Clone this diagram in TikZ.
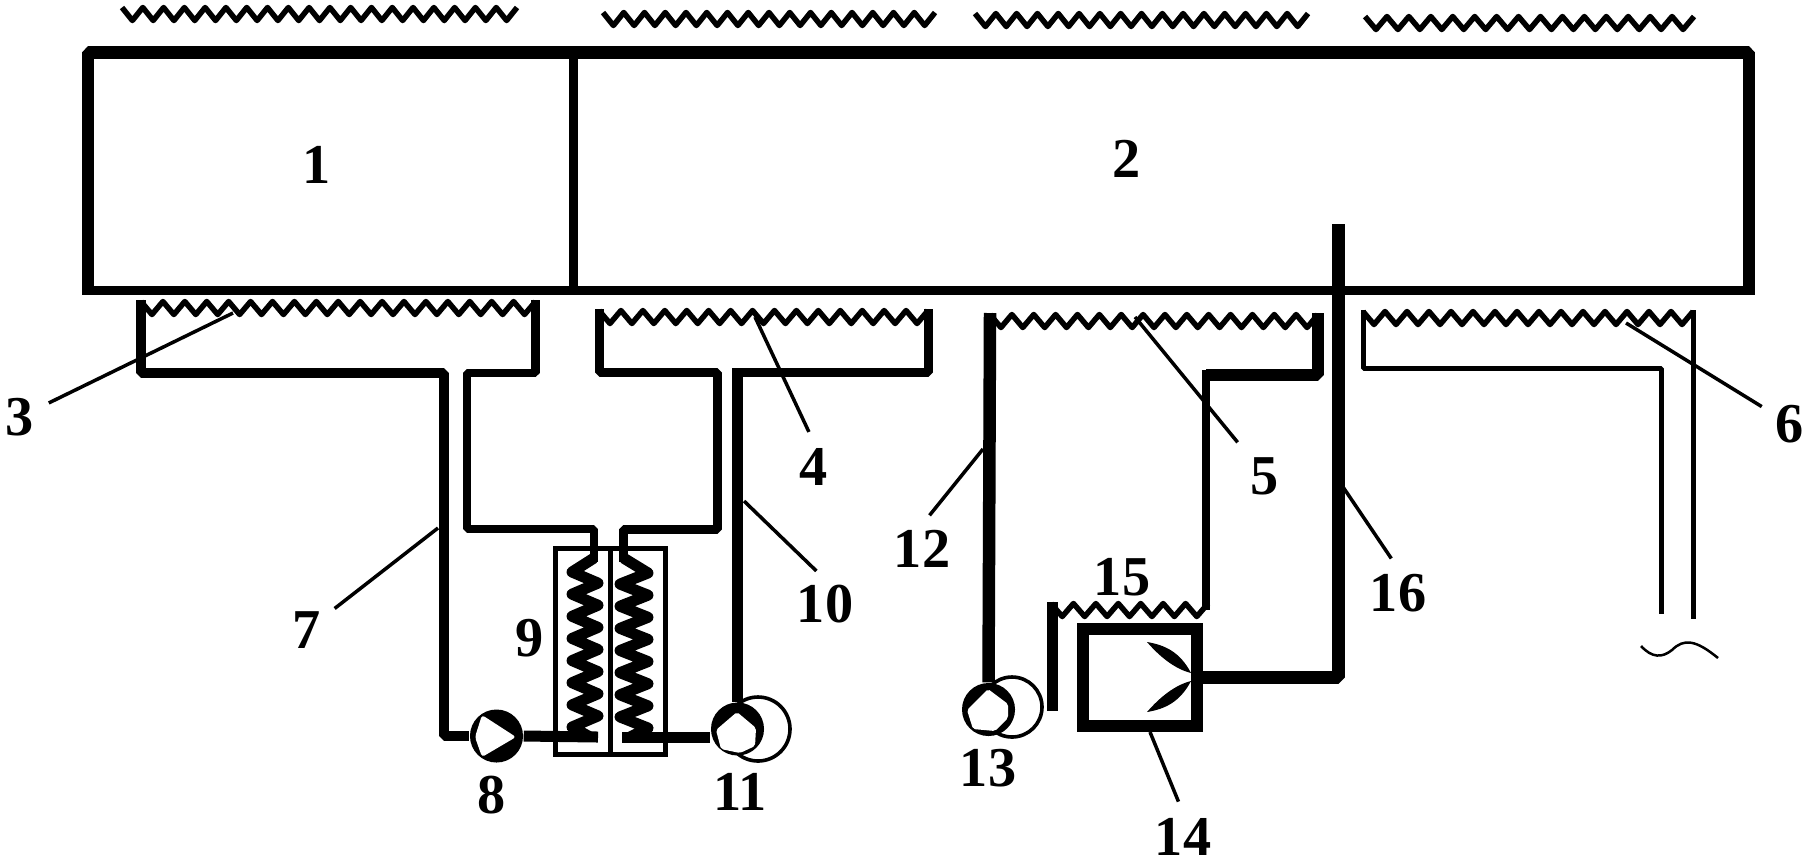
\documentclass[tikz,border=0pt]{standalone}
\usepackage{fontspec}
\setmainfont{Liberation Serif}
\tikzset{
    pipe/.style = {line width=0.105cm, line join=bevel},
    thinpipe/.style = {line width=0.05cm, line join=bevel},
    wave/.style = {line width=0.055cm, line join=round},
    coil/.style = {line width=0.11cm, line join=round},
    leader/.style = {line width=0.035cm},
    pump/.style = {circle, fill=black, minimum size=0.53cm, inner sep=0pt},
    drum/.style = {draw, fill=white, line width=0.036cm},
    num/.style = {font=\fontsize{16}{16}\selectfont\bfseries, inner sep=0.05cm}
}
% from x #2 to x #3 at height #4, #5 teeth
\newcommand{\ripple}[5][]{\draw [wave, #1] plot[samples at={0,0.5,...,#5}] ({#2+(#3-#2)/#5*\x},{#4-6.5*cos(360*\x)});}
% from x #1 at the top, along axis #2, half width #3, y #4 to y #5, to x #6 at the bottom
\newcommand{\springy}[6]{\draw [coil] (#1,558) -- plot[samples at={0,0.5,...,7}] ({#2-#3*cos(360*\x)},{#4+(#5-#4)/7*\x}) -- (#6,737);}
\begin{document}
\begin{tikzpicture}[x=0.01cm, y=-0.01cm]
    \useasboundingbox (0,0) rectangle (1807,863);

    % main body
    \draw [line width=0.125cm, line join=bevel] (88,290) -- (88,52.5) -- (1749,52.5) -- (1749,290);
    \draw [line width=0.095cm] (82,290.5) -- (1755,290.5);
    \draw [line width=0.09cm] (573,52) -- (573,290);

    % upper waves
    \ripple{122}{517}{14}{19}
    \ripple{603}{935}{19}{16}
    \ripple{975}{1308}{20}{16}
    \ripple{1365}{1694}{23}{15}

    % lower waves
    \ripple{141}{535.5}{308}{18}
    \ripple{599}{928}{317}{15}
    \ripple{990}{1318}{321}{15}
    \ripple{1363}{1693}{318}{15}
    \ripple{1051}{1208}{610}{7}

    % units
    \draw [drum] (758,729) circle (32);
    \draw [drum] (1012,707) circle (30);
    \node[pump] (pumpA) at (496.5,736) {};
    \node[pump] (pumpB) at (737.5,729) {};
    \node[pump] (pumpC) at (988.5,709.5) {};
    \fill [white, rounded corners=0.03cm] (482,715) -- (516,737) -- (482,757) -- (475,737) -- cycle;
    \fill [white, rounded corners=0.02cm] (716,730) -- (737,712) -- (756,728) -- (755,746) -- (740,753) -- (721,749) -- cycle;
    \fill [white, rounded corners=0.02cm] (967,710) -- (988,689) -- (1008,704) -- (1008,718) -- (995,731) -- (973,729) -- cycle;
    \node[draw, line width=0.05cm, minimum width=1.095cm, minimum height=2.05cm, inner sep=0pt] (exch) at (610.25,651.5) {};
    \node[draw, line width=0.12cm, minimum width=1.14cm, minimum height=0.97cm, inner sep=0pt] (fan) at (1140,677.5) {};

    % pipes
    \draw [pipe] (141,300) -- (141,373) -- (444,373) -- (444,736) -- (pumpA.west);
    \draw [pipe, line width=0.088cm] (535.5,300) -- (535.5,373) -- (467,373) -- (467,529) -- (594,529) -- (594,562);
    \draw [pipe, line width=0.09cm] (599,309) -- (599,372) -- (717,372) -- (717,529) -- (623.5,529) -- (623.5,562);
    \draw [pipe, line width=0.09cm] (928,309) -- (928,372) -- (737.5,372);
    \draw [pipe, line width=0.115cm] (737.5,368) -- (pumpB.north);
    \draw [pipe, line width=0.125cm] (990,313) -- (pumpC.north);
    \draw [pipe, line width=0.12cm] (1318,313) -- (1318,375) -- (1205.5,375);
    \draw [pipe, line width=0.08cm] (1205.5,370) -- (1205.5,610);
    \draw [pipe, line width=0.11cm] (1052,602) -- (1052,711);
    \draw [pipe, line width=0.125cm] (fan.east) -- (1338.5,677.5) -- (1338.5,224);
    \draw [thinpipe] (1363,310) -- (1363,368) -- (1661.5,368) -- (1661.5,614);
    \draw [thinpipe] (1693,310) -- (1693,619);
    \draw [line width=0.025cm] (1641,646) .. controls (1652,658) and (1662,658) .. (1672,650) .. controls (1684,638) and (1696,640) .. (1718,658);

    % exchanger
    \draw [line width=0.045cm] (exch.north) -- (exch.south);
    \springy{594}{585}{13}{572}{727}{590}
    \springy{623.5}{634}{-14}{573}{728}{630}
    \draw [pipe, line width=0.11cm] (pumpA.east) -- (598,737);
    \draw [pipe, line width=0.11cm] (622,737) -- (pumpB.west |- 622,737);

    % fan blades
    \foreach \s in {1,-1}
        \fill [shift={(1190,677)}, yscale=\s] (1,-4) .. controls (-15,-8) and (-30,-20) .. (-43,-35) .. controls (-25,-32) and (-10,-25) .. (1,-4);

    % numbers
    \node[num] (n1) at (317,165) {1};
    \node[num] (n2) at (1127,159) {2};
    \node[num] (n3) at (20,417) {3};
    \node[num] (n4) at (814,467) {4};
    \node[num] (n5) at (1265,476) {5};
    \node[num] (n6) at (1790,424) {6};
    \node[num] (n7) at (307,630) {7};
    \node[num] (n8) at (492,795) {8};
    \node[num] (n9) at (530,638) {9};
    \node[num] (n10) at (825,604) {10};
    \node[num] (n11) at (740,792) {11};
    \node[num] (n12) at (922,549) {12};
    \node[num] (n13) at (988,768) {13};
    \node[num] (n14) at (1183,837) {14};
    \node[num] (n15) at (1122,577) {15};
    \node[num] (n16) at (1398,593) {16};

    % leader tips
    \coordinate (t3) at (233,313);
    \coordinate (t4) at (755,317);
    \coordinate (t5) at (1135,317);
    \coordinate (t6) at (1626,323);
    \coordinate (t7) at (438,528);
    \coordinate (t10) at (744,501);
    \coordinate (t12) at (983,449);
    \coordinate (t14) at (1150,732);
    \coordinate (t16) at (1343,487);

    \foreach \n in {3,6,7}
        \draw [leader, shorten <=0.1cm] (n\n) -- (t\n);
    \foreach \n/\a in {4/north,5/north west,10/north,12/north,14/north,16/north}
        \draw [leader, shorten <=0.12cm] (n\n.\a) -- (t\n);
\end{tikzpicture}
\end{document}
